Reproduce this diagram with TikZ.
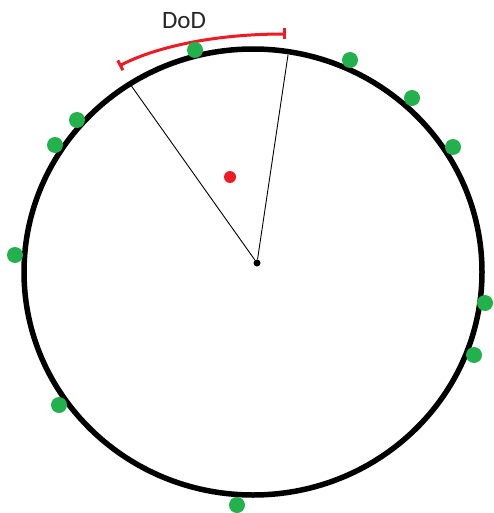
\documentclass[tikz,border=0pt]{standalone}
\usepackage{fontspec}
\setmainfont{Carlito}
\usetikzlibrary{arrows.meta}
\definecolor{pgreen}{HTML}{22B14C}
\definecolor{pred}{HTML}{ED1C24}
\tikzset{
  gdot/.style={circle,fill=pgreen,inner sep=0pt,minimum size=16pt},
  rdot/.style={circle,fill=pred,inner sep=0pt,minimum size=12pt},
  cdot/.style={circle,fill=black,inner sep=0pt,minimum size=7pt},
  ray/.style={draw=black,line width=0.9pt},
}
\begin{document}
\begin{tikzpicture}[x=1pt,y=-1pt]
\useasboundingbox (0,0) rectangle (493,513);
\draw[line width=5.5pt] (253,272) ellipse [x radius=229, y radius=223];
\node[cdot] (c) at (257,263) {};
\coordinate (l) at (130,84);
\coordinate (r) at (288,55);
\draw[ray] (c) -- (l);
\draw[ray] (c) -- (r);
\node[rdot] (red) at (230,177) {};
\coordinate (a1) at (119,66);
\coordinate (a2) at (286,34);
\draw[pred,line width=3pt,{Bar[width=11pt,line width=3pt]}-{Bar[width=11pt,line width=3pt]}]
  (a1) .. controls (160,45) and (220,34) .. (a2);
\node[font=\fontsize{25}{30}\selectfont,text=black!85] (dod) at (184,21) {DoD};
\foreach \n/\x/\y in {g1/195/50,g2/350/60,g3/412/98,g4/453/147,g5/77/120,g6/55/145,g7/15/255,g8/485/303,g9/474/355,g10/59/405,g11/237/505}
  \node[gdot] (\n) at (\x,\y) {};
\end{tikzpicture}
\end{document}
